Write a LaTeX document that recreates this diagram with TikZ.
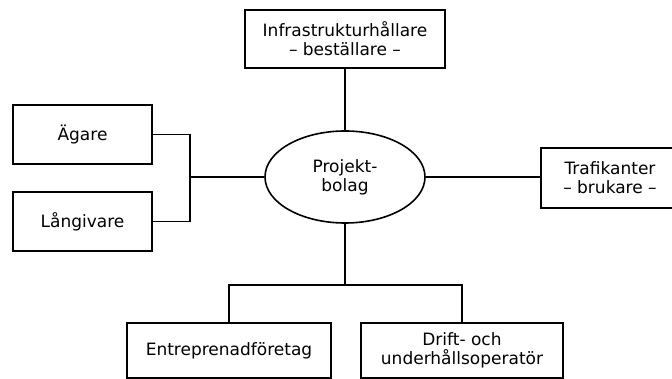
\documentclass[tikz,border=0pt]{standalone}
\usepackage{fontspec}
\setmainfont{DejaVu Sans}
\usetikzlibrary{shapes.geometric}
\begin{document}
\begin{tikzpicture}[x=1pt,y=-1pt,
  every node/.style={font=\fontsize{17}{19}\selectfont, align=center, inner sep=0pt},
  party/.style={draw, line width=1.8pt, rectangle},
  hub/.style={draw, line width=1.6pt, ellipse},
  link/.style={line width=1.8pt}]
  \useasboundingbox (0,0) rectangle (672,379);
  % organisations around the project company
  \node[party, minimum width=200pt, minimum height=58pt] (infra) at (345,39)
    {Infrastrukturhållare\\– beställare –};
  \node[hub, minimum width=160pt, minimum height=92pt] (bolag) at (345,177)
    {Projekt-\\bolag};
  \node[party, minimum width=139pt, minimum height=59pt] (agare) at (82.5,134.5) {Ägare};
  \node[party, minimum width=139pt, minimum height=59pt] (lang) at (82.5,221.5) {Långivare};
  \node[party, minimum width=138pt, minimum height=60pt] (traf) at (610,178)
    {Trafikanter\\– brukare –};
  \node[party, minimum width=204pt, minimum height=55pt] (entr) at (229,350.5)
    {Entreprenadföretag};
  \node[party, minimum width=202pt, minimum height=55pt] (drift) at (462,350.5)
    {Drift- och\\underhållsoperatör};
  % junction points of the connectors
  \coordinate (lj) at (190,177);
  \coordinate (bj) at (345,285);
  % connectors
  \draw[link] (infra.south) -- (bolag.north);
  \draw[link] (agare.east) -| (lj) |- (lang.east);
  \draw[link] (lj) -- (bolag.west);
  \draw[link] (bolag.east) -- (traf.west |- bolag.east);
  \draw[link] (bolag.south) -- (bj);
  \draw[link] (entr.north) |- (bj) -| (drift.north);
\end{tikzpicture}
\end{document}
